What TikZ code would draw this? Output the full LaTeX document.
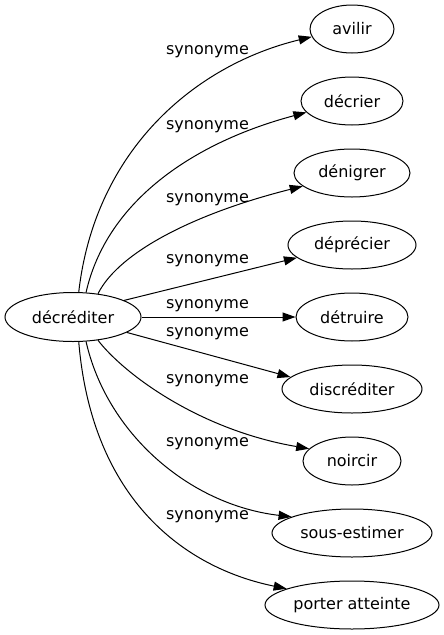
\documentclass[tikz,border=0pt]{standalone}
\usepackage{fontspec}
\setmainfont{DejaVu Sans}
\usetikzlibrary{shapes.geometric,arrows.meta}
\tikzset{
  word/.style={draw, ellipse, line width=1pt, inner sep=0pt, minimum height=48pt, font=\fontsize{16}{19}\selectfont},
  rel/.style={inner sep=0pt, font=\fontsize{16}{19}\selectfont},
  edge/.style={line width=1pt, -{Triangle[length=13pt,width=9pt]}}
}
\begin{document}
\begin{tikzpicture}[x=1pt,y=-1pt]
\useasboundingbox (0,0) rectangle (444,635);
\node[word, minimum width=136pt, minimum height=49pt] (src) at (73,317) {décréditer};
\node[word, minimum width=84pt] (avilir) at (352,29) {avilir};
\node[word, minimum width=102pt] (decrier) at (352,101) {décrier};
\node[word, minimum width=116pt] (denigrer) at (352,173) {dénigrer};
\node[word, minimum width=128pt] (deprecier) at (352,245) {déprécier};
\node[word, minimum width=112pt] (detruire) at (352,317) {détruire};
\node[word, minimum width=140pt] (discrediter) at (352,389) {discréditer};
\node[word, minimum width=98pt] (noircir) at (352,461) {noircir};
\node[word, minimum width=160pt] (sousestimer) at (352,533) {sous-estimer};
\node[word, minimum width=174pt] (porter) at (352,605) {porter atteinte};

\node[rel] (l1) at (207.5,52) {synonyme};
\node[rel] (l2) at (207.5,127) {synonyme};
\node[rel] (l3) at (207.5,200) {synonyme};
\node[rel] (l4) at (207.5,261) {synonyme};
\node[rel] (l5) at (207.5,305.5) {synonyme};
\node[rel] (l6) at (207.5,334) {synonyme};
\node[rel] (l7) at (207.5,381) {synonyme};
\node[rel] (l8) at (207.5,444) {synonyme};
\node[rel] (l9) at (207.5,517) {synonyme};

\draw[edge] (src.77.7) .. controls (95,150) and (195,65) .. (avilir.191);
\draw[edge] (src.62.4) .. controls (107,200) and (195,142) .. (decrier.194.3);
\draw[edge] (src.43.8) .. controls (120,250) and (200,212) .. (denigrer.195);
\draw[edge] (src.18.1) -- (deprecier.193.3);
\draw[edge] (src.east) -- (detruire.west);
\draw[edge] (src.-16.5) -- (discrediter.169);
\draw[edge] (src.-43.8) .. controls (125,375) and (200,430) .. (noircir.164.2);
\draw[edge] (src.-62.4) .. controls (107,434) and (190,505) .. (sousestimer.165.5);
\draw[edge] (src.-77.7) .. controls (92,500) and (185,568) .. (porter.166.8);
\end{tikzpicture}
\end{document}
